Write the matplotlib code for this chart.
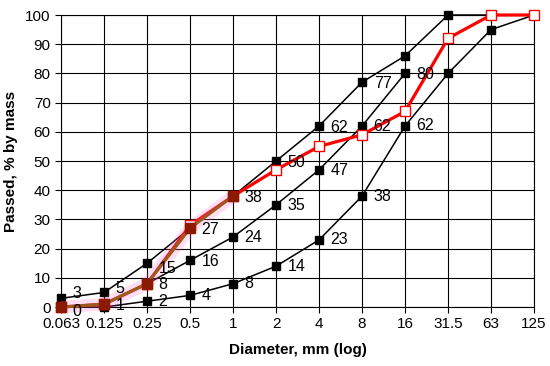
import numpy as np
import matplotlib
matplotlib.use("Agg")
import matplotlib.pyplot as plt

plt.rcParams['font.family'] = ['Liberation Sans', 'DejaVu Sans']

sizes = ["0.063", "0.125", "0.25", "0.5", "1", "2", "4", "8", "16", "31.5", "63", "125"]
upper = [3, 5, 15, 27, 38, 50, 62, 77, 86, 100, 100, 100]
middle = [0, 1, 8, 16, 24, 35, 47, 62, 80, np.nan, np.nan, np.nan]
lower = [0, 0, 2, 4, 8, 14, 23, 38, 62, 80, 95, 100]
sample = [0, 1, 8, 28, 38, 47, 55, 59, 67, 92, 100, 100]
brown = [0, 1, 8, 27, 38]

upper_labels = [3, 5, 15, 27, 38, 50, 62, 77]
middle_labels = [1, 8, 16, 24, 35, 47, 62, 80]
lower_labels = [0, None, 2, 4, 8, 14, 23, 38, 62]

x = np.arange(len(sizes))

fig = plt.figure(figsize=(5.5, 3.66), dpi=100)
ax = fig.add_axes([0.111, 0.161, 0.86, 0.798])

ax.set_xlim(0, 11)
ax.set_ylim(0, 100)
ax.set_xticks(x)
ax.set_xticklabels(sizes)
ax.set_yticks(np.arange(0, 101, 10))
ax.grid(True, color='black', linewidth=0.8)
ax.set_axisbelow(True)
for s in ax.spines.values():
    s.set_color('black')
    s.set_linewidth(0.8)
ax.tick_params(axis='both', labelsize=11, length=4, width=0.8, color='black')

ax.plot(x, upper, color='black', lw=1.1, marker='s', ms=6, mfc='black', mec='black', zorder=3, clip_on=False)
ax.plot(x, middle, color='black', lw=1.1, marker='s', ms=6, mfc='black', mec='black', zorder=3, clip_on=False)
ax.plot(x, lower, color='black', lw=1.1, marker='s', ms=6, mfc='black', mec='black', zorder=3, clip_on=False)
ax.plot(x, sample, color='#ff0000', lw=2.3, marker='s', ms=6.5, mfc='white', mec='#ff0000', mew=1.0, zorder=4, clip_on=False)

xb = x[:len(brown)]
ax.plot(xb, brown, color='#ff66cc', lw=9, alpha=0.22, solid_capstyle='butt', zorder=4.5, clip_on=False)
ax.plot(xb, brown, color='#9c5a1e', lw=2.2, marker='s', ms=6.5, mfc='#8b1a00', mec='#8b1a00', zorder=5, clip_on=False)

def lab(xi, yi, t, dy=0):
    ax.text(xi + 0.27, yi + dy, str(t), fontsize=11.5, va='center', ha='left', zorder=6)

for i, v in enumerate(upper_labels):
    lab(i, upper[i], v, dy=(1.5 if i < 2 else -1.8 if i == 2 else -0.5))
for i, v in enumerate(middle_labels, start=1):
    lab(i, middle[i], v, dy=(-0.3 if i == 1 else -0.3))
for i, v in enumerate(lower_labels):
    if v is None:
        continue
    lab(i, lower[i], v, dy=(-1.5 if i == 0 else 0))

ax.set_xlabel('Diameter, mm (log)', fontsize=11, fontweight='bold', labelpad=8)
ax.set_ylabel('Passed, % by mass', fontsize=11, fontweight='bold', labelpad=5)

fig.savefig('out.png', dpi=100)
